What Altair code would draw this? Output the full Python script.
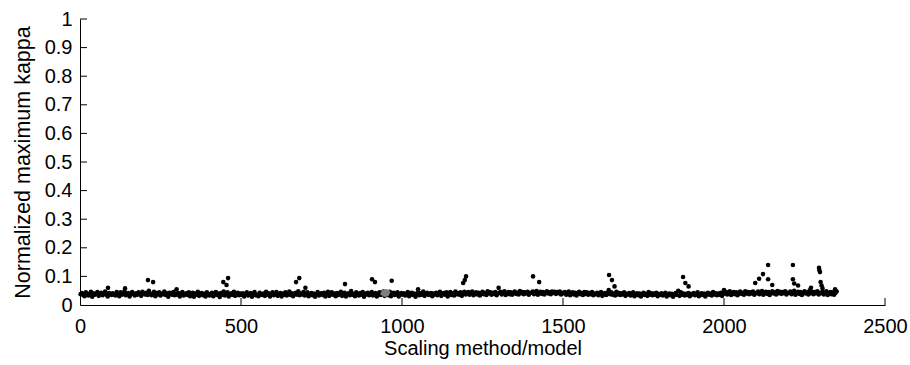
import altair as alt
import pandas as pd

# Main band: normalized maximum kappa (thousandths), one value per model at x = 2, 6, 10, ... 2350
band_rows = [
    [38,42,35,31,44,40,33,37,46,29,41,36,39,45,32,38,43,34,40,47,36,30,42,39,35],
    [41,37,33,45,39,31,44,36,40,48,34,38,42,30,37,45,39,33,41,36,44,38,32,46,40],
    [37,43,35,50,40,34,39,46,31,42,37,44,33,40,38,47,35,41,29,43,39,36,45,34,40],
    [36,42,30,39,45,33,38,41,35,44,31,37,43,29,40,36,46,32,38,42,34,39,30,44,37],
    [33,39,43,31,37,45,35,40,28,42,36,47,33,39,44,30,38,41,35,46,32,37,43,34,40],
    [35,41,30,38,44,33,36,42,29,39,45,34,37,31,43,38,35,40,32,46,36,41,30,38,44],
    [34,39,45,32,37,42,30,40,36,44,33,38,47,35,41,31,39,43,36,48,34,40,37,45,33],
    [38,44,31,36,42,34,40,29,37,45,33,39,41,35,43,30,38,46,32,37,44,36,40,31,42],
    [35,40,46,32,38,43,30,37,41,34,49,36,39,31,44,38,33,42,36,45,29,40,37,43,34],
    [39,45,33,38,42,30,36,44,35,40,47,32,38,41,34,46,31,37,43,35,39,44,30,38,42],
    [36,41,33,39,45,31,37,43,35,40,29,38,44,34,41,36,47,32,39,43,35,38,42,31,40],
    [37,43,34,40,46,32,38,42,36,44,30,39,45,35,41,33,47,38,42,36,44,32,40,46,37],
    [40,45,36,42,47,34,39,44,37,43,33,41,46,38,42,35,48,40,44,36,43,39,45,34,41],
    [42,46,37,43,48,35,40,45,38,44,36,42,47,39,43,37,49,41,45,38,44,40,46,36,42],
    [43,47,38,44,49,36,41,46,39,45,37,43,48,40,44,38,47,42,46,39,45,41,47,37,43],
    [41,45,36,42,47,34,39,44,37,43,33,40,46,38,42,35,45,39,44,36,42,38,45,34,40],
    [38,43,34,40,45,32,37,42,35,41,52,38,44,36,40,33,46,37,42,35,41,37,44,32,39],
    [37,42,33,39,44,31,36,41,34,40,30,37,43,35,39,32,45,36,41,34,40,36,43,31,38],
    [36,41,33,38,43,30,35,40,34,39,29,37,42,35,50,32,44,36,40,33,39,35,42,31,38],
    [37,42,34,39,44,31,36,41,35,40,30,38,43,36,40,33,45,37,41,34,40,36,43,32,39],
    [40,46,37,42,48,35,40,45,38,44,34,41,47,39,43,36,48,40,45,38,44,40,47,36,42],
    [41,47,38,43,49,36,41,46,39,45,35,42,48,40,44,37,49,41,46,39,45,41,48,37,43],
    [42,47,38,44,50,36,41,46,39,45,35,42,48,40,44,37,51,41,46,38,45,41,48,37,43],
    [41,46,37,43,48,35,40,45,38,44,36,42,47],
]
band_start = 2
band_step = 4

# Scattered higher values
out_x = [87, 140, 211, 227, 300, 445, 455, 460, 671, 681, 700, 823, 907, 916, 968, 1050,
         1190, 1195, 1199, 1300, 1407, 1426, 1643, 1652, 1660, 1873, 1880, 1890, 2000,
         2097, 2109, 2121, 2137, 2137, 2150, 2214, 2214, 2218, 2230, 2270, 2295, 2296,
         2298, 2300, 2303, 2306, 2345]
out_y = [0.060, 0.058, 0.087, 0.080, 0.055, 0.080, 0.070, 0.094, 0.080, 0.094, 0.060, 0.073,
         0.090, 0.080, 0.085, 0.055, 0.077, 0.087, 0.100, 0.060, 0.100, 0.080, 0.105, 0.087,
         0.065, 0.098, 0.077, 0.065, 0.052, 0.077, 0.092, 0.108, 0.140, 0.090, 0.070, 0.140,
         0.090, 0.075, 0.068, 0.060, 0.130, 0.122, 0.115, 0.080, 0.068, 0.058, 0.055]

# Grey highlighted cluster
grey_x = [940, 944, 947, 950, 953, 956, 945, 951]
grey_y = [0.040, 0.046, 0.036, 0.043, 0.038, 0.045, 0.041, 0.048]

x_ticks = [500, 1000, 1500, 2000, 2500]
y_ticks = [0.1, 0.2, 0.3, 0.4, 0.5, 0.6, 0.7, 0.8, 0.9, 1]
x_labels = [0, 500, 1000, 1500, 2000, 2500]
y_labels = [0, 0.1, 0.2, 0.3, 0.4, 0.5, 0.6, 0.7, 0.8, 0.9, 1]

band_vals = [v for row in band_rows for v in row]
band_df = pd.DataFrame({
    "x": [band_start + band_step * i for i in range(len(band_vals))],
    "y": [v / 1000 for v in band_vals],
})
out_df = pd.DataFrame({"x": out_x, "y": out_y})
grey_df = pd.DataFrame({"x": grey_x, "y": grey_y})

FONT = "Liberation Sans"
FS = 20
W, H = 805, 286

xs = alt.Scale(domain=[0, 2500], nice=False)
ys = alt.Scale(domain=[0, 1], nice=False)

x_axis = alt.Axis(values=x_labels, title="Scaling method/model", grid=False, tickSize=0,
                  labelPadding=11, titlePadding=2, labelFontSize=FS, titleFontSize=FS,
                  labelFont=FONT, titleFont=FONT, titleFontWeight="normal", format="d",
                  labelColor="black", titleColor="black", domainColor="black",
                  labelFlush=False, labelOverlap=False)
y_axis = alt.Axis(values=y_labels, title="Normalized maximum kappa", grid=False, tickSize=0,
                  labelPadding=8, titlePadding=10, labelFontSize=FS, titleFontSize=21.5,
                  labelFont=FONT, titleFont=FONT, titleFontWeight="normal", format="~g",
                  labelColor="black", titleColor="black", domainColor="black",
                  labelFlush=False, labelOverlap=False)

DOT = 21
band = alt.Chart(band_df).mark_circle(size=DOT, color="black", opacity=1).encode(
    x=alt.X("x:Q", scale=xs, axis=x_axis),
    y=alt.Y("y:Q", scale=ys, axis=y_axis),
)
outl = alt.Chart(out_df).mark_circle(size=DOT, color="black", opacity=1).encode(
    x=alt.X("x:Q", scale=xs, axis=x_axis), y=alt.Y("y:Q", scale=ys, axis=y_axis))
grey = alt.Chart(grey_df).mark_circle(size=DOT, color="#7f7f7f", opacity=1).encode(
    x=alt.X("x:Q", scale=xs, axis=x_axis), y=alt.Y("y:Q", scale=ys, axis=y_axis))

xt = alt.Chart(pd.DataFrame({"t": x_ticks})).mark_rule(color="black", strokeWidth=1).encode(
    x=alt.X("t:Q", scale=xs, axis=x_axis), y=alt.value(H), y2=alt.value(H - 7))
yt = alt.Chart(pd.DataFrame({"t": y_ticks})).mark_rule(color="black", strokeWidth=1).encode(
    y=alt.Y("t:Q", scale=ys, axis=y_axis), x=alt.value(0), x2=alt.value(7))

chart = alt.layer(band, outl, grey, xt, yt).properties(
    width=W, height=H,
    autosize=alt.AutoSizeParams(type="none"),
    padding={"left": 80, "top": 19, "right": 25, "bottom": 60},
    background="white",
).configure_view(stroke=None)

chart.save("out.html", embed_options={"renderer": "svg", "actions": False})
